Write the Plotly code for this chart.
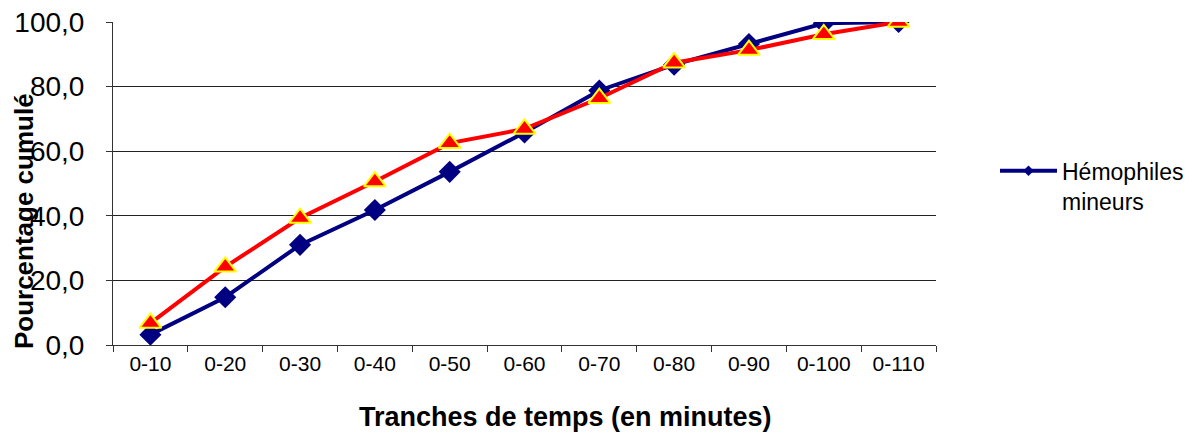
import plotly.graph_objects as go

categories = ["0-10", "0-20", "0-30", "0-40", "0-50", "0-60", "0-70", "0-80", "0-90", "0-100", "0-110"]
mineurs = [3.2, 14.8, 31.0, 41.8, 53.6, 65.8, 78.8, 86.8, 93.2, 99.6, 100.0]
autres = [6.8, 24.2, 39.3, 50.6, 62.5, 66.9, 76.4, 87.4, 91.3, 96.2, 100.0]
y_ticks = [0, 20, 40, 60, 80, 100]
legend_label = "Hémophiles<br>mineurs"
x_title = "Tranches de temps (en minutes)"
y_title = "Pourcentage cumulé"

NAVY = "#000080"
fig = go.Figure()
fig.add_trace(go.Scatter(
    x=categories, y=mineurs, mode="lines+markers", showlegend=False,
    line=dict(color=NAVY, width=4),
    marker=dict(symbol="diamond", size=17, color=NAVY),
))
fig.add_trace(go.Scatter(
    x=categories, y=autres, mode="lines+markers", showlegend=False,
    line=dict(color="#FF0000", width=4),
    marker=dict(symbol="triangle-up", size=19, color="#FF0000",
                line=dict(color="#FFFF00", width=2)),
))
# legend-only entry (smaller marker like reference legend)
fig.add_trace(go.Scatter(
    x=[None], y=[None], mode="lines+markers", name=legend_label,
    line=dict(color=NAVY, width=4),
    marker=dict(symbol="diamond", size=8, color=NAVY),
))

font_family = "Liberation Sans, Arial, sans-serif"
fig.update_layout(
    width=1192, height=435,
    margin=dict(l=113, r=256, t=22, b=90, autoexpand=False),
    paper_bgcolor="white", plot_bgcolor="white",
    separators=", ",
    font=dict(family=font_family, color="black"),
    showlegend=True,
    legend=dict(x=1.0717, y=0.493, xanchor="left", yanchor="middle",
                font=dict(size=23, color="black"), itemwidth=57, valign="top",
                bgcolor="rgba(0,0,0,0)"),
    xaxis=dict(
        type="category", tickson="boundaries", ticks="outside", ticklen=6,
        tickcolor="#333", showline=True, linecolor="#333", linewidth=1,
        showgrid=False, tickfont=dict(size=21), automargin=False,
        range=[-0.5, 10.5],
    ),
    yaxis=dict(
        range=[0, 100], tickvals=y_ticks, tickformat=".1f", ticks="outside",
        ticklen=6, tickcolor="#333", showline=True, linecolor="#333", linewidth=1,
        showgrid=True, gridcolor="#222", gridwidth=1, zeroline=False,
        tickfont=dict(size=28), automargin=False, ticklabelstandoff=16,
    ),
    annotations=[
        dict(text="<b>" + x_title + "</b>", xref="paper", yref="paper",
             x=0.5504, y=-0.223, xanchor="center", yanchor="middle",
             showarrow=False, font=dict(size=27)),
        dict(text="<b>" + y_title + "</b>", xref="paper", yref="paper",
             x=-0.108, y=0.384, xanchor="center", yanchor="middle",
             textangle=-90, showarrow=False, font=dict(size=26)),
    ],
)
fig.write_html("out.html", config={"displayModeBar": False},
               post_script="document.body.style.margin='0';")
